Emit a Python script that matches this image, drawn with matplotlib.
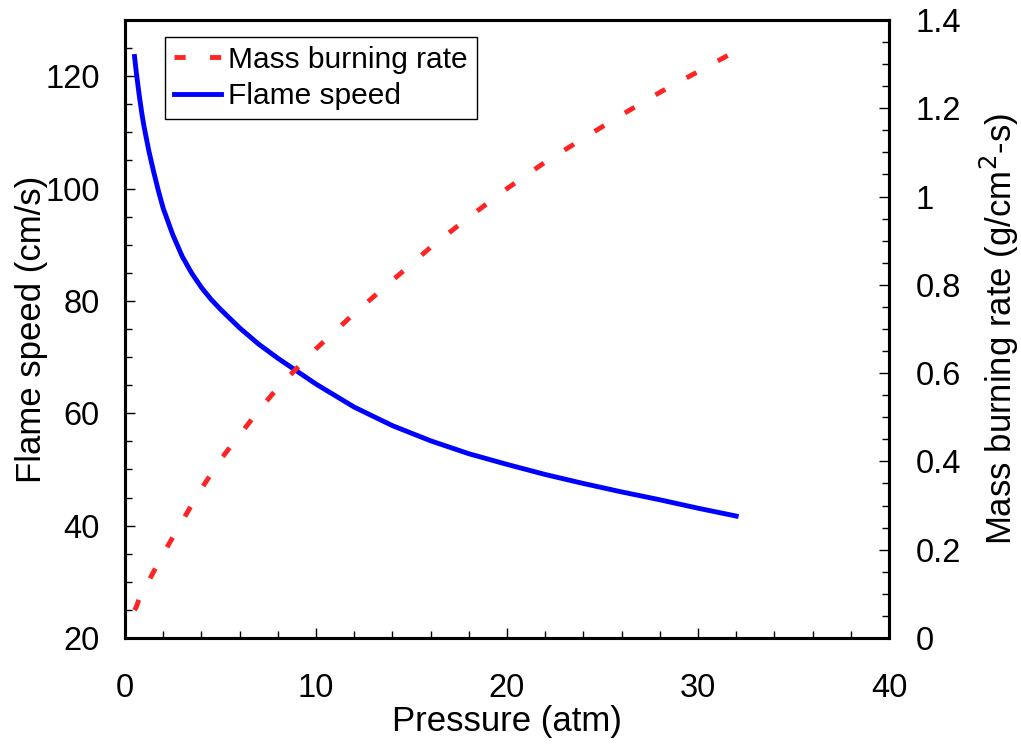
import matplotlib.pyplot as plt
from matplotlib.ticker import MultipleLocator

plt.rcParams['font.family'] = ['Liberation Sans', 'DejaVu Sans']

# pressure (atm)
pressure = [0.5, 0.6, 0.75, 0.9, 1, 1.25, 1.5, 1.75, 2, 2.5, 3, 3.5, 4, 4.5, 5, 6, 7, 8,
            10, 12, 14, 16, 18, 20, 22, 24, 26, 28, 30, 32]
# flame speed (cm/s)
flame_speed = [123.5, 120.5, 116.5, 113.0, 111.0, 106.7, 103.0, 99.6, 96.5, 91.8,
               87.9, 84.9, 82.4, 80.3, 78.5, 75.2, 72.3, 69.8,
               65.2, 61.1, 57.8, 55.1, 52.8, 50.9, 49.1, 47.5, 46.0, 44.6, 43.1, 41.7]
# mass burning rate (g/cm2-s)
mass_rate = [0.063, 0.071, 0.09, 0.102, 0.11, 0.13, 0.15, 0.17, 0.19, 0.228,
             0.265, 0.302, 0.338, 0.371, 0.404, 0.46, 0.515, 0.567,
             0.655, 0.735, 0.81, 0.885, 0.953, 1.018, 1.078, 1.132, 1.185,
             1.236, 1.283, 1.33]

fig = plt.figure(figsize=(10.21, 7.46), dpi=100)
ax = fig.add_axes([0.1224, 0.1448, 0.7483, 0.8284])
ax2 = ax.twinx()

l1, = ax.plot(pressure, flame_speed, color='blue', lw=3.5, label='Flame speed')
l2, = ax2.plot(pressure, mass_rate, color='#ff2424', lw=3.5, ls=(0, (2.3, 5.0)),
               label='Mass burning rate')

ax.set_xlim(0, 40)
ax.set_ylim(20, 130)
ax2.set_ylim(0, 1.4)

ax.xaxis.set_major_locator(MultipleLocator(10))
ax.xaxis.set_minor_locator(MultipleLocator(2))
ax.yaxis.set_minor_locator(MultipleLocator(5))
ax.set_yticks([20, 40, 60, 80, 100, 120])
ax2.yaxis.set_minor_locator(MultipleLocator(0.05))
ax2.set_yticks([0, 0.2, 0.4, 0.6, 0.8, 1.0, 1.2, 1.4])
ax2.set_yticklabels(['0', '0.2', '0.4', '0.6', '0.8', '1', '1.2', '1.4'])

ax.tick_params(axis='x', which='both', direction='in', top=False, labelsize=23.5, pad=25)
ax.tick_params(axis='y', which='both', direction='in', right=False, labelsize=23.5, pad=18)
ax2.tick_params(axis='y', which='both', direction='in', left=False, labelsize=23.5, pad=19)
for a in (ax, ax2):
    a.tick_params(which='major', length=7, width=1)
    a.tick_params(which='minor', length=5, width=1)
    for s in a.spines.values():
        s.set_linewidth(2.2)

ax.set_xlabel('Pressure (atm)', fontsize=25, labelpad=1)
ax.set_ylabel('Flame speed (cm/s)', fontsize=25, labelpad=-2)
ax2.set_ylabel('Mass burning rate (g/cm$^2$-s)', fontsize=25, labelpad=12)

leg = ax2.legend(handles=[l2, l1], loc='upper left', bbox_to_anchor=(0.053, 0.9725),
                 borderaxespad=0, fontsize=21.5, fancybox=False, edgecolor='black',
                 framealpha=1, handlelength=1.55, handletextpad=0.25,
                 labelspacing=0.28, borderpad=0.3)
leg.get_frame().set_linewidth(1)

plt.savefig('out.png', dpi=100)
